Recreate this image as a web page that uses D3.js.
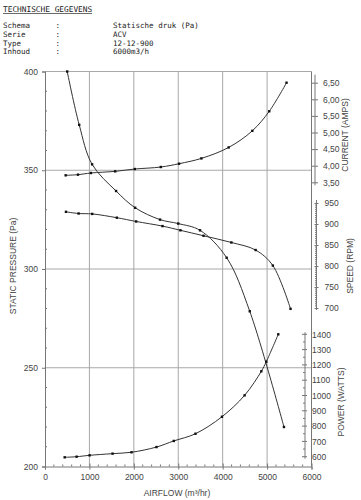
<!DOCTYPE html>
<html>
<head>
<meta charset="utf-8">
<script src="https://cdn.jsdelivr.net/npm/d3@7"></script>
<style>
  body { margin: 0; background: #fff; }
  svg { display: block; }
</style>
</head>
<body>
<div id="chart"></div>
<script>
// header block
const infoLabels = ["Schema", "Serie", "Type", "Inhoud"];
const infoValues = ["Statische druk (Pa)", "ACV", "12-12-900", "6000m3/h"];

// airflow (m3/hr) and values for each curve
const pressureFlow = [500, 770, 1060, 1600, 2030, 2590, 3000, 3490, 4090, 4610, 5380];
const pressure = [400, 373, 353, 339.5, 331, 325, 323, 319.6, 305.7, 278.6, 220];

const currentFlow = [465, 742, 1034, 1580, 2022, 2607, 3018, 3521, 4135, 4667, 5049, 5438];
const current = [3.71, 3.73, 3.78, 3.83, 3.90, 3.96, 4.06, 4.22, 4.55, 5.05, 5.64, 6.50];

const speedFlow = [472, 757, 1063, 1618, 2052, 2645, 3049, 3569, 4196, 4742, 5130, 5528];
const speed = [929, 925, 924, 915, 906, 895, 885, 872, 856, 838, 801, 698];

const powerFlow = [443, 712, 1004, 1521, 1948, 2510, 2899, 3387, 3984, 4494, 4870, 4982, 5252];
const power = [596, 600, 609, 620, 629, 663, 703, 750, 861, 1001, 1158, 1221, 1400];

const flowTicks = [0, 1000, 2000, 3000, 4000, 5000, 6000];
const pressureTicks = [200, 250, 300, 350, 400];
const currentTicks = [3.5, 4.0, 4.5, 5.0, 5.5, 6.0, 6.5];
const speedTicks = [700, 750, 800, 850, 900, 950];
const powerTicks = [600, 700, 800, 900, 1000, 1100, 1200, 1300, 1400];

const W = 361, H = 500;
const svg = d3.select("#chart").append("svg")
    .attr("width", W)
    .attr("height", H);

const lineColor = "#333";
const gridColor = "#a8a8a8";
const axisColor = "#777";
const textColor = "#444";

// header text
const mono = "'DejaVu Sans Mono', 'Liberation Mono', monospace";
svg.append("text")
    .attr("x", 3).attr("y", 11.5)
    .style("font-family", mono).style("font-size", "7.8px")
    .attr("fill", "#222")
    .text("TECHNISCHE GEGEVENS");
svg.append("line")
    .attr("x1", 3).attr("x2", 92).attr("y1", 13.5).attr("y2", 13.5)
    .attr("stroke", "#444").attr("stroke-width", 0.8);

infoLabels.forEach((lab, i) => {
    const y = 28 + i * 8.8;
    const row = svg.append("g").style("font-family", mono).style("font-size", "7.5px").attr("fill", "#222");
    row.append("text").attr("x", 3).attr("y", y).text(lab);
    row.append("text").attr("x", 55.5).attr("y", y).text(":");
    row.append("text").attr("x", 113).attr("y", y).text(infoValues[i]);
});

// scales
const x = d3.scaleLinear().domain([0, 6000]).range([45, 311.5]);
const y = d3.scaleLinear().domain([200, 400]).range([466.5, 71.5]);
const yCurrent = d3.scaleLinear().domain([3.5, 6.5]).range([182.3, 82.7]);
const ySpeed = d3.scaleLinear().domain([700, 950]).range([308, 203]);
const yPower = d3.scaleLinear().domain([600, 1400]).range([456.7, 334.3]);

// grid
const grid = svg.append("g");
grid.selectAll(".gx")
    .data(flowTicks.slice(1, -1))
    .join("line")
    .attr("x1", d => x(d)).attr("x2", d => x(d))
    .attr("y1", y(400)).attr("y2", y(200))
    .attr("stroke", gridColor).attr("stroke-width", 1);
grid.selectAll(".gy")
    .data(pressureTicks.slice(1, -1))
    .join("line")
    .attr("x1", x(0)).attr("x2", x(6000))
    .attr("y1", d => y(d)).attr("y2", d => y(d))
    .attr("stroke", gridColor).attr("stroke-width", 1);
// top and right border
grid.append("line")
    .attr("x1", x(0)).attr("x2", x(6000)).attr("y1", y(400)).attr("y2", y(400))
    .attr("stroke", gridColor);
grid.append("line")
    .attr("x1", x(6000)).attr("x2", x(6000)).attr("y1", y(400)).attr("y2", y(200))
    .attr("stroke", axisColor);

const sans = "'Liberation Sans', Arial, sans-serif";
const intFmt = d3.format("d");

// bottom axis
const xAxis = svg.append("g")
    .attr("transform", `translate(0,${y(200)})`)
    .call(d3.axisBottom(x).tickValues(flowTicks).tickFormat(intFmt).tickSize(3).tickPadding(4));
xAxis.selectAll(".tick line").attr("y1", -3);
xAxis.selectAll(".tick text").style("font-size", "8.5px");
xAxis.append("g").selectAll("line")
    .data(d3.range(0, 6001, 200).filter(d => d % 1000 !== 0))
    .join("line")
    .attr("x1", d => x(d)).attr("x2", d => x(d))
    .attr("y1", -2).attr("y2", 0);

// left axis
const yAxis = svg.append("g")
    .attr("transform", `translate(${x(0)},0)`)
    .call(d3.axisLeft(y).tickValues(pressureTicks).tickFormat(intFmt).tickSize(3).tickPadding(4));
yAxis.selectAll(".tick text").style("font-size", "8.5px");
yAxis.append("g").selectAll("line")
    .data(d3.range(200, 401, 10).filter(d => d % 50 !== 0))
    .join("line")
    .attr("x1", 0).attr("x2", 2)
    .attr("y1", d => y(d)).attr("y2", d => y(d));

// current axis
const commaFmt = d3.formatLocale({decimal: ",", thousands: ".", grouping: [3], currency: ["", ""]}).format(".2f");
const cAxis = svg.append("g")
    .attr("transform", "translate(315,0)")
    .call(d3.axisRight(yCurrent).tickValues(currentTicks).tickFormat(commaFmt).tickSize(3).tickPadding(5));
cAxis.selectAll(".tick line").attr("x1", -3);
cAxis.select(".domain").attr("d", `M0,${yCurrent(6.5) - 8}V${yCurrent(3.5) + 3}`);
cAxis.selectAll(".tick text").style("font-size", "8.5px");

// speed axis
const sAxis = svg.append("g")
    .attr("transform", "translate(316.5,0)")
    .call(d3.axisRight(ySpeed).tickValues(speedTicks).tickFormat(intFmt).tickSize(2).tickPadding(6));
sAxis.selectAll(".tick line").attr("x1", -2);
sAxis.select(".domain").attr("d", `M0,${ySpeed(950) - 3}V${ySpeed(700) + 2}`);
sAxis.selectAll(".tick text").style("font-size", "8.5px");
sAxis.append("g").selectAll("line")
    .data(d3.range(700, 951, 5).filter(d => d % 50 !== 0))
    .join("line")
    .attr("x1", -1.5).attr("x2", 0)
    .attr("y1", d => ySpeed(d)).attr("y2", d => ySpeed(d));

// power axis
const pAxis = svg.append("g")
    .attr("transform", "translate(305,0)")
    .call(d3.axisRight(yPower).tickValues(powerTicks).tickFormat(intFmt).tickSize(0).tickPadding(7));
pAxis.select(".domain").attr("d", `M0,${yPower(1400) - 2}V${yPower(600) + 2}`);
pAxis.selectAll(".tick text").style("font-size", "8.5px");
pAxis.append("g").selectAll("line")
    .data(d3.range(600, 1401, 50))
    .join("line")
    .attr("x1", d => d % 100 === 0 ? -3 : -2).attr("x2", d => d % 100 === 0 ? 2 : 0)
    .attr("y1", d => yPower(d)).attr("y2", d => yPower(d));

[xAxis, yAxis, cAxis, sAxis, pAxis].forEach(a => {
    a.selectAll(".domain").attr("stroke", axisColor);
    a.selectAll("line").attr("stroke", axisColor);
    a.selectAll("text").attr("fill", textColor).style("font-family", sans);
});

// axis titles
const titleStyle = sel => sel.style("font-family", sans).style("font-size", "8.5px")
    .attr("fill", textColor).attr("text-anchor", "middle");
svg.append("text").call(titleStyle)
    .attr("x", 177).attr("y", 496)
    .text("AIRFLOW (m³/hr)");
svg.append("text").call(titleStyle)
    .attr("transform", "translate(16,266) rotate(-90)")
    .text("STATIC PRESSURE (Pa)");
svg.append("text").call(titleStyle)
    .attr("transform", "translate(348,135) rotate(-90)")
    .text("CURRENT (AMPS)");
svg.append("text").call(titleStyle)
    .attr("transform", "translate(353,266) rotate(-90)")
    .text("SPEED (RPM)");
svg.append("text").call(titleStyle)
    .attr("transform", "translate(344,402) rotate(-90)")
    .text("POWER (WATTS)");

// curves
const series = [
    {flow: pressureFlow, vals: pressure, scale: y},
    {flow: currentFlow, vals: current, scale: yCurrent},
    {flow: speedFlow, vals: speed, scale: ySpeed},
    {flow: powerFlow, vals: power, scale: yPower}
];

series.forEach(s => {
    const pts = s.flow.map((f, i) => [x(f), s.scale(s.vals[i])]);
    svg.append("path")
        .datum(pts)
        .attr("fill", "none")
        .attr("stroke", lineColor)
        .attr("stroke-width", 1)
        .attr("d", d3.line().curve(d3.curveCatmullRom.alpha(0.5)));
    svg.append("g").selectAll("rect")
        .data(pts)
        .join("rect")
        .attr("x", d => d[0] - 1.2)
        .attr("y", d => d[1] - 1.2)
        .attr("width", 2.4)
        .attr("height", 2.4)
        .attr("fill", "#111");
});
</script>
</body>
</html>
